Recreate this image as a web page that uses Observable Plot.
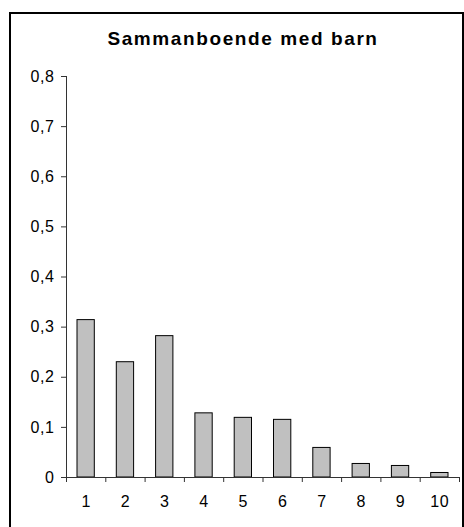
<!DOCTYPE html>
<html>
<head>
<meta charset="utf-8">
<script src="https://cdn.jsdelivr.net/npm/d3@7"></script>
<script src="https://cdn.jsdelivr.net/npm/@observablehq/plot@0.6"></script>
<style>
  html, body { margin: 0; padding: 0; background: #fff; }
  body { width: 464px; height: 527px; position: relative; overflow: hidden; font-family: Arial, "Liberation Sans", sans-serif; }
  #frame { position: absolute; left: 9px; top: 12px; width: 451px; height: 540px; border: 2px solid #000; box-sizing: content-box; }
  #title { position: absolute; left: 0; width: 486px; top: 28px; text-align: center; font-weight: bold; font-size: 19px; letter-spacing: 1.6px; color: #000; }
  #chart { position: absolute; left: 0; top: 0; }
</style>
</head>
<body>
<div id="frame"></div>
<div id="title">Sammanboende med barn</div>
<div id="chart"></div>
<script>
// Categories and values
const categories = [1, 2, 3, 4, 5, 6, 7, 8, 9, 10];
const values = [0.314, 0.230, 0.282, 0.128, 0.119, 0.115, 0.059, 0.027, 0.023, 0.009];
const yTicks = [0, 0.1, 0.2, 0.3, 0.4, 0.5, 0.6, 0.7, 0.8];
const xBoundaries = [0.5, 1.5, 2.5, 3.5, 4.5, 5.5, 6.5, 7.5, 8.5, 9.5, 10.5];

const data = categories.map((k, i) => ({k, v: values[i]}));
const fmt = d => d === 0 ? "0" : d.toFixed(1).replace(".", ",");
const axisColor = "#333";

const chart = Plot.plot({
  width: 464,
  height: 527,
  marginLeft: 66,
  marginRight: 5,
  marginTop: 76,
  marginBottom: 50,
  style: {fontFamily: "Arial, 'Liberation Sans', sans-serif", fontSize: "16px", background: "transparent", color: "#000"},
  x: {domain: [0.5, 10.5], axis: null},
  y: {domain: [0, 0.8], axis: null},
  marks: [
    Plot.rectY(data, {x1: d => d.k - 0.5, x2: d => d.k + 0.5, y: "v", insetLeft: 11, insetRight: 11, fill: "#c0c0c0", stroke: "#000", strokeWidth: 1}),
    Plot.ruleX([0.5], {y1: 0, y2: 0.8, stroke: axisColor}),
    Plot.ruleY([0], {x1: 0.5, x2: 10.5, stroke: axisColor}),
    Plot.axisY({ticks: yTicks, tickFormat: fmt, tickSize: 5, tickPadding: 7, stroke: axisColor, fill: "#000", fontSize: 16, label: null}),
    Plot.axisX({ticks: xBoundaries, tickFormat: () => "", tickSize: 5, stroke: axisColor, label: null}),
    Plot.axisX({ticks: categories, tickFormat: d => String(d), tickSize: 0, tickPadding: 18, fill: "#000", fontSize: 16, label: null})
  ]
});
chart.querySelectorAll("text").forEach(t => { t.style.fontSize = "16px"; t.style.letterSpacing = "0.6px"; });
document.getElementById("chart").appendChild(chart);
</script>
</body>
</html>
